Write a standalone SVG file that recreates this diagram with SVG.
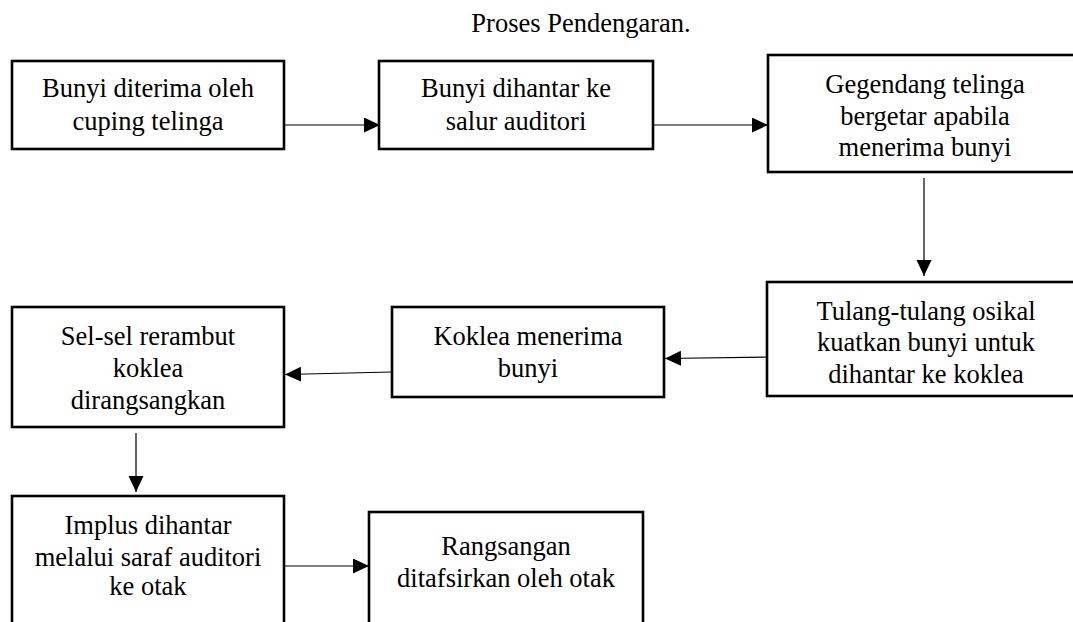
<svg xmlns="http://www.w3.org/2000/svg" width="1073" height="622" viewBox="0 0 1073 622">
<style>
.box{fill:#fff;stroke:#000;stroke-width:2.6}
.t{font-family:"Liberation Serif","Times New Roman",serif;font-size:26.5px;fill:#000;text-anchor:middle}
.c{fill:none;stroke:#000;stroke-width:1.2}
</style>
<defs>
<marker id="ah" markerUnits="userSpaceOnUse" markerWidth="17" markerHeight="16" refX="16" refY="7.5" orient="auto">
<path d="M0,0 L16,7.5 L0,15 z" fill="#000"/>
</marker>
</defs>
<rect width="1073" height="622" fill="#fff"/>
<text class="t" x="581" y="32">Proses Pendengaran.</text>
<g id="n1"><rect class="box" x="12" y="61" width="272" height="88"/>
<text class="t" x="148" y="97">Bunyi diterima oleh</text><text class="t" x="148" y="129.5">cuping telinga</text></g>
<g id="n2"><rect class="box" x="379" y="61" width="274" height="88"/>
<text class="t" x="516" y="97">Bunyi dihantar ke</text><text class="t" x="516" y="129.5">salur auditori</text></g>
<g id="n3"><rect class="box" x="768" y="55" width="314" height="117"/>
<text class="t" x="925" y="93">Gegendang telinga</text><text class="t" x="925" y="124.5">bergetar apabila</text><text class="t" x="925" y="156">menerima bunyi</text></g>
<g id="n4"><rect class="box" x="767" y="282" width="316" height="114"/>
<text class="t" x="926" y="319.5">Tulang-tulang osikal</text><text class="t" x="926" y="351">kuatkan bunyi untuk</text><text class="t" x="926" y="382.5">dihantar ke koklea</text></g>
<g id="n5"><rect class="box" x="392" y="307" width="272" height="90"/>
<text class="t" x="528" y="345">Koklea menerima</text><text class="t" x="528" y="376.5">bunyi</text></g>
<g id="n6"><rect class="box" x="12" y="307" width="272" height="120"/>
<text class="t" x="148" y="344.5">Sel-sel rerambut</text><text class="t" x="148" y="376.5">koklea</text><text class="t" x="148" y="408.5">dirangsangkan</text></g>
<g id="n7"><rect class="box" x="12" y="496" width="272" height="150"/>
<text class="t" x="148" y="533.5">Implus dihantar</text><text class="t" x="148" y="565.5">melalui saraf auditori</text><text class="t" x="148" y="595">ke otak</text></g>
<g id="n8"><rect class="box" x="369" y="512" width="274" height="134"/>
<text class="t" x="506" y="555">Rangsangan</text><text class="t" x="506" y="587">ditafsirkan oleh otak</text></g>
<g id="connectors">
<line class="c" x1="285" y1="125" x2="380" y2="125" marker-end="url(#ah)"/>
<line class="c" x1="653" y1="125" x2="768" y2="125" marker-end="url(#ah)"/>
<line class="c" x1="924" y1="178" x2="924" y2="276" marker-end="url(#ah)"/>
<line class="c" x1="767" y1="357" x2="665" y2="358.5" marker-end="url(#ah)"/>
<line class="c" x1="392" y1="372" x2="285" y2="374.5" marker-end="url(#ah)"/>
<line class="c" x1="136" y1="433" x2="136" y2="492" marker-end="url(#ah)"/>
<line class="c" x1="285" y1="566" x2="369" y2="566" marker-end="url(#ah)"/>
</g>
</svg>
